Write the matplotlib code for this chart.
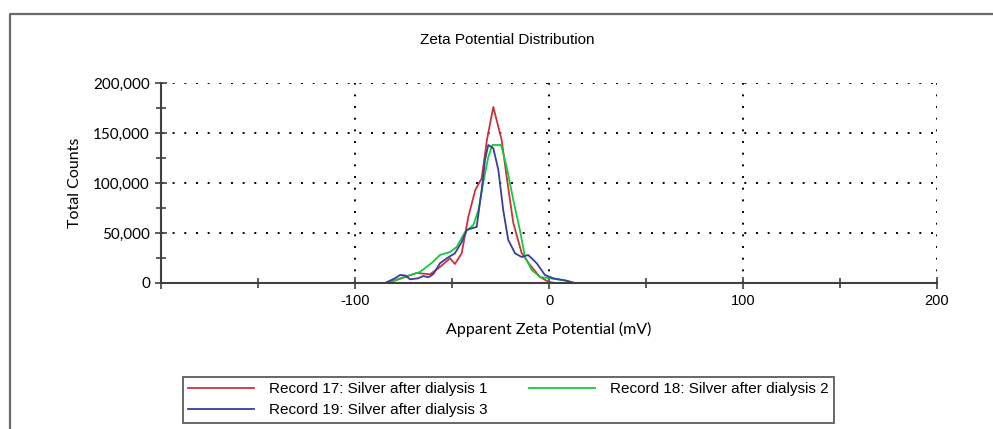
import matplotlib
matplotlib.use("Agg")
import matplotlib.pyplot as plt
from matplotlib.lines import Line2D
from matplotlib.ticker import MultipleLocator, FuncFormatter
from matplotlib import font_manager

# Zeta potential distributions (mV, total counts)
rec17_mv = [-150, -84.5, -78.5, -68.2, -61.3, -56.2, -51.0, -48.5, -45.0, -41.6, -38.0,
            -34.7, -32.0, -28.7, -24.4, -21.8, -18.4, -14.1, -9.8, -4.6, -0.4, 3.0, 150]
rec17_counts = [0, 0, 3000, 10000, 8700, 16000, 24700, 19000, 29700, 66000, 93000,
                104700, 143000, 176000, 143000, 106000, 60000, 30000, 18000, 6000, 1300, 0, 0]

rec18_mv = [-150, -83.0, -76.8, -66.5, -60.5, -56.2, -51.0, -47.6, -43.3, -39.0, -36.4,
            -33.9, -31.3, -29.2, -24.7, -21.8, -18.4, -15.0, -12.4, -8.9, -4.6, 0.5, 9.0, 13.4, 150]
rec18_counts = [0, 0, 4700, 11000, 20000, 28000, 31000, 36000, 51000, 58000, 73000,
                100000, 126000, 138000, 138000, 116000, 83000, 53000, 26000, 13000, 6000,
                4700, 2300, 0, 0]

rec19_mv = [-150, -84.5, -79.4, -76.8, -74.2, -71.6, -67.4, -64.8, -62.2, -59.6, -56.2,
            -52.7, -48.5, -45.0, -42.4, -39.8, -37.3, -34.7, -33.0, -31.3, -28.7, -26.1,
            -23.6, -21.0, -17.5, -14.1, -10.7, -6.3, -2.1, 2.2, 9.0, 13.0, 150]
rec19_counts = [0, 0, 4700, 8000, 7600, 3700, 4700, 7000, 5700, 9000, 19700,
                24700, 29700, 41000, 53000, 54700, 56000, 93000, 123000, 138000, 134700, 113000,
                73000, 43000, 29700, 26000, 28000, 19700, 8000, 4700, 2300, 0, 0]

labels = ["Record 17: Silver after dialysis 1",
          "Record 18: Silver after dialysis 2",
          "Record 19: Silver after dialysis 3"]

names = {f.name for f in font_manager.fontManager.ttflist}
narrow = ["Liberation Sans Narrow", "Liberation Sans"] if "Liberation Sans Narrow" in names else ["Liberation Sans"]

fig = plt.figure(figsize=(9.93, 4.29), dpi=100)
ax = fig.add_axes([161 / 993, 146 / 429, 776 / 993, 200 / 429])

# outer panel border (top and left edges only)
fig.add_artist(Line2D([10 / 993, 10 / 993, 1.0], [0.0, 1 - 14 / 429, 1 - 14 / 429],
                      transform=fig.transFigure, color="#6a6a6a", lw=1.6))

l17, = ax.plot(rec17_mv, rec17_counts, color="#c8343c", lw=1.3)
l18, = ax.plot(rec18_mv, rec18_counts, color="#12cc3a", lw=1.3)
l19, = ax.plot(rec19_mv, rec19_counts, color="#3a3d9c", lw=1.3)

ax.set_xlim(-200, 200)
ax.set_ylim(0, 200000)
ax.xaxis.set_major_locator(MultipleLocator(100))
ax.xaxis.set_minor_locator(MultipleLocator(50))
ax.yaxis.set_major_locator(MultipleLocator(50000))
ax.yaxis.set_minor_locator(MultipleLocator(25000))
ax.xaxis.set_major_formatter(FuncFormatter(lambda v, p: "" if v <= -200 else f"{v:.0f}"))
ax.yaxis.set_major_formatter(FuncFormatter(lambda v, p: f"{v:,.0f}"))

for s in ["top", "right"]:
    ax.spines[s].set_visible(False)
for s in ["left", "bottom"]:
    ax.spines[s].set_color("#404040")
    ax.spines[s].set_linewidth(1.5)

ax.grid(True, which="major", color="black", linestyle=(0, (1, 5)), linewidth=1.4)
ax.set_axisbelow(True)
ax.tick_params(which="both", direction="inout", color="#404040", width=1.2)
ax.tick_params(which="major", length=8, pad=4)
ax.tick_params(which="minor", length=7)
for t in ax.get_yticklabels():
    t.set_fontfamily("Lato")
    t.set_fontsize(11)
for t in ax.get_xticklabels():
    t.set_fontfamily("Liberation Sans")
    t.set_fontsize(10.5)

ax.set_ylabel("Total Counts", fontfamily="Lato", fontsize=11.5, labelpad=8)
ax.set_xlabel("Apparent Zeta Potential (mV)", fontfamily="Lato", fontsize=11.5, labelpad=10)

fig.text(507 / 993, 1 - 40 / 429, "Zeta Potential Distribution", ha="center", va="center",
         fontfamily=narrow, fontsize=11)

leg = fig.legend([l17, l19, l18], [labels[0], labels[2], labels[1]], ncol=2,
                 loc="upper left", bbox_to_anchor=(183 / 993, 1 - 377 / 429),
                 frameon=True, fancybox=False, edgecolor="#333333",
                 prop={"family": narrow, "size": 11}, handlelength=4.3,
                 handletextpad=1.0, columnspacing=2.7, borderpad=0.35,
                 labelspacing=0.45, borderaxespad=0)
leg.get_frame().set_linewidth(1.3)

fig.savefig("out.png", dpi=100)
